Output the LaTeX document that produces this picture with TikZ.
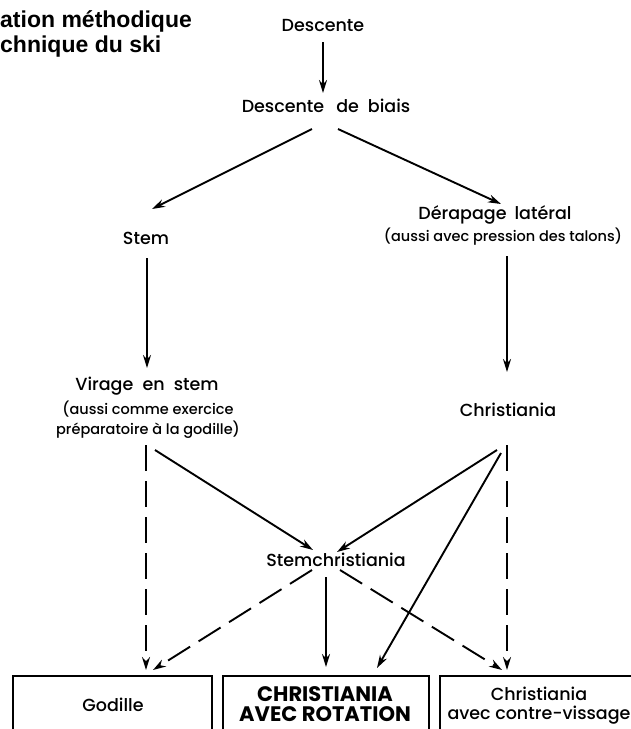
\documentclass[tikz,border=0pt]{standalone}
\usepackage{fontspec}
\setmainfont{Poppins}[UprightFont={* Medium}, BoldFont={* Bold}]
\newfontfamily\titlefont{Liberation Sans}
\usetikzlibrary{arrows.meta}
\tikzset{
  lbl/.style={inner sep=0pt, font=\fontsize{17.5}{20}\selectfont},
  sublbl/.style={inner sep=0pt, font=\fontsize{14.5}{16}\selectfont},
  ttl/.style={inner sep=0pt, anchor=base west, font=\titlefont\bfseries\fontsize{23}{26}\selectfont},
  caps/.style={inner sep=0pt, font=\bfseries\fontsize{21}{24}\selectfont},
  boxx/.style={draw, line width=1.8pt, minimum width=#1, minimum height=90pt, anchor=north west, inner sep=0pt},
  arr/.style={line width=1.9pt, -{Stealth[length=13pt,width=8pt]}},
  darr/.style={arr, dash pattern=on 26pt off 10pt},
}
\begin{document}
\begin{tikzpicture}[x=1pt,y=-1pt]
\clip (0,0) rectangle (631,729);
\fill[white] (0,0) rectangle (631,729);
% title
\node[ttl] (t1) at (0,27) {ation méthodique};
\node[ttl] (t2) at (0,52) {chnique du ski};
% labels
\node[lbl] (desc) at (323,25) {Descente};
\node[lbl] (biais) at (326,106) {Descente\hspace{12pt}de\hspace{9pt}biais};
\node[lbl] (stem) at (146,238) {Stem};
\node[lbl] (derap) at (495,215) {Dérapage\hspace{8pt}latéral};
\node[sublbl] (derapsub) at (503,237) {(aussi\ avec\ pression\ des\ talons)};
\node[lbl] (virage) at (147,386) {Virage\ \ en\ \ stem};
\node[sublbl] (virsub1) at (148,409) {(aussi\ comme\ exercice};
\node[sublbl] (virsub2) at (148,430) {préparatoire\ à\ la\ godille)};
\node[lbl] (chris) at (508,410) {Christiania};
\node[lbl] (stemch) at (336,560) {Stemchristiania};
% boxes
\node[boxx=199pt] (b1) at (12,675) {};
\node[boxx=206pt] (b2) at (222,675) {};
\node[boxx=215pt] (b3) at (439,675) {};
\node[lbl] (god) at (113,705) {Godille};
\node[caps] (cr1) at (325,694) {CHRISTIANIA};
\node[caps] (cr2) at (325,714) {AVEC\ ROTATION};
\node[lbl] (cv1) at (539,694) {Christiania};
\node[lbl] (cv2) at (539,715) {avec\ contre-vissage};
% connectors
\draw[arr] ([shift={(0,17)}]desc.center) -- ([shift={(-3,-13)}]biais.center);
\draw[arr] ([shift={(-14,23)}]biais.center) -- ([shift={(6,-29)}]stem.center);
\draw[arr] ([shift={(12,23)}]biais.center) -- ([shift={(6,-11)}]derap.center);
\draw[arr] ([shift={(1,20)}]stem.center) -- ([shift={(0,-18)}]virage.center);
\draw[arr] ([shift={(4,19)}]derapsub.center) -- ([shift={(-1,-38)}]chris.center);
\draw[darr] ([shift={(-2,15)}]virsub2.center) -- ([shift={(134,-5)}]b1.north west);
\draw[arr] ([shift={(7,20)}]virsub2.center) -- ([shift={(-23,-10)}]stemch.center);
\draw[arr] ([shift={(-11,40)}]chris.center) -- ([shift={(1,-8)}]stemch.center);
\draw[arr] ([shift={(-7,43)}]chris.center) -- ([shift={(155,-7)}]b2.north west);
\draw[darr] ([shift={(-1,35)}]chris.center) -- ([shift={(68,-5)}]b3.north west);
\draw[darr] ([shift={(-24,10)}]stemch.center) -- ([shift={(141,-5)}]b1.north west);
\draw[arr] ([shift={(-10,17)}]stemch.center) -- ([shift={(104,-8)}]b2.north west);
\draw[darr] ([shift={(4,10)}]stemch.center) -- ([shift={(63,-5)}]b3.north west);
\end{tikzpicture}
\end{document}
